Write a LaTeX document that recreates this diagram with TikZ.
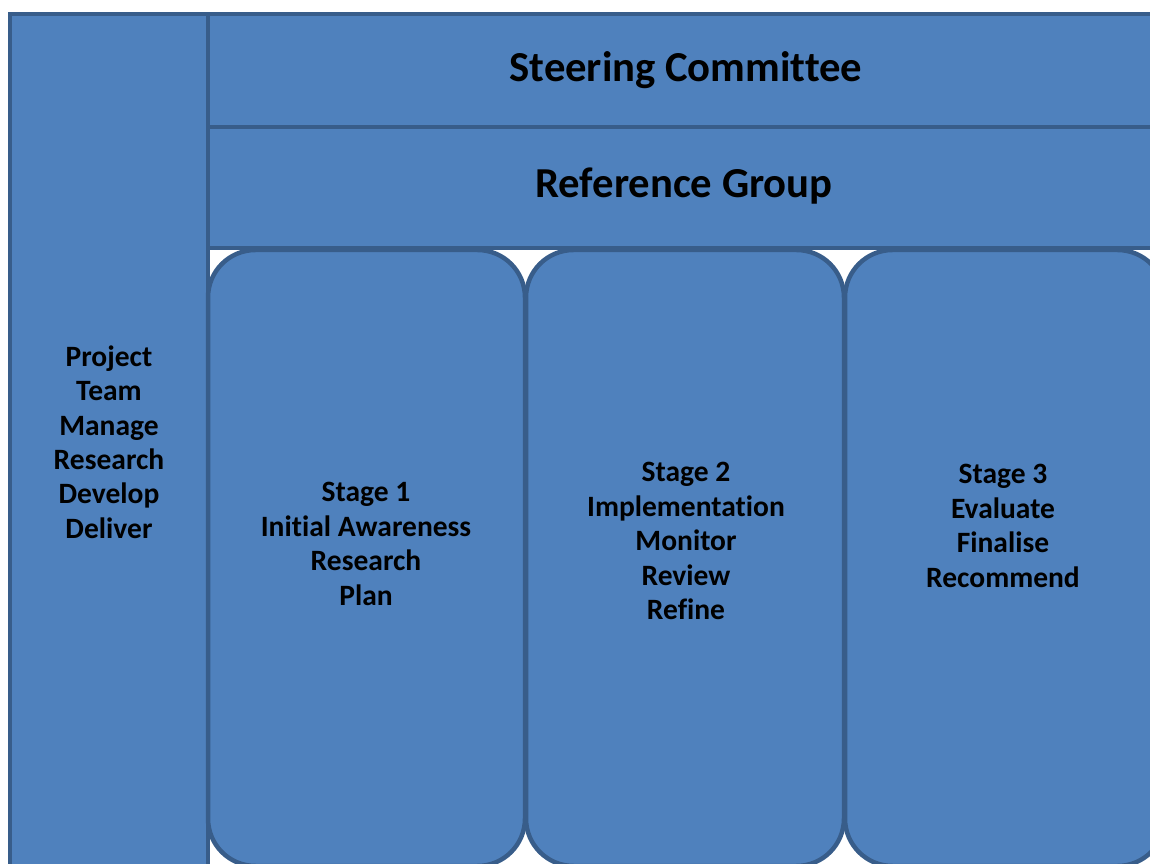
\documentclass[tikz,border=0pt]{standalone}
\usepackage{fontspec}
\setmainfont[Ligatures=NoCommon]{Carlito}
\definecolor{boxfill}{HTML}{4F81BD}
\definecolor{boxline}{HTML}{385D8A}

\begin{document}
\begin{tikzpicture}
  [
    x=0.02cm, y=-0.02cm,
    box/.style={draw=boxline, fill=boxfill, line width=0.09cm},
    stage/.style={box, rounded corners=0.95cm},
    title/.style={font=\bfseries\fontsize{24.3}{29}\selectfont},
    label/.style={font=\bfseries\fontsize{16.8}{19.6}\selectfont, align=center},
  ]
  \useasboundingbox (0,0) rectangle (1150,864);
  \clip (0,0) rectangle (1150,864);
  % committees across the top
  \draw [box] (208,14) rectangle (1200,127);
  \draw [box] (208,127) rectangle (1200,248);
  % project team down the side
  \draw [box] (10,14) rectangle (208,920);
  % the three stages
  \draw [stage] (208,250) rectangle (525,866);
  \draw [stage] (526,250) rectangle (844,866);
  \draw [stage] (845,250) rectangle (1165,866);

  \node [title] (steering) at (686,70) {Steering Committee};
  \node [title] (reference) at (684,186) {Reference Group};
  \node [label] (team) at (109,442) {Project\\Team\\Manage\\Research\\Develop\\Deliver};
  \node [label] (stage1) at (366,544) {Stage 1\\Initial Awareness\\Research\\Plan};
  \node [label] (stage2) at (686,541) {Stage 2\\Implementation\\Monitor\\Review\\Refine};
  \node [label] (stage3) at (1003,526) {Stage 3\\Evaluate\\Finalise\\Recommend};
\end{tikzpicture}
\end{document}
